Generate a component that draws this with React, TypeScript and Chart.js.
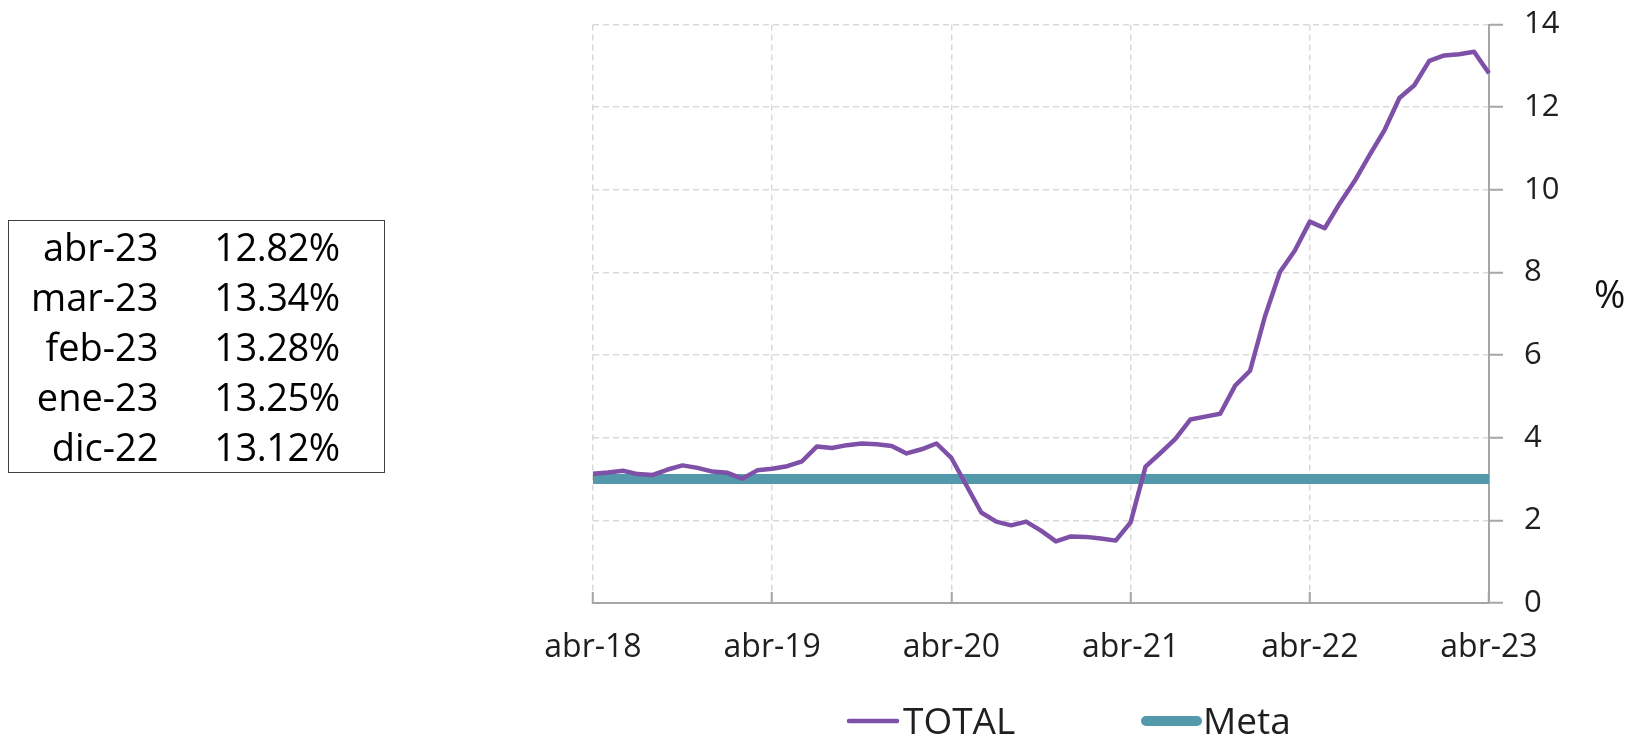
import React, { useEffect, useRef } from "react";
import { Chart, registerables } from "chart.js";

Chart.register(...registerables);

const monthLabels = [
  "abr-18", "may-18", "jun-18", "jul-18", "ago-18", "sep-18", "oct-18", "nov-18", "dic-18",
  "ene-19", "feb-19", "mar-19", "abr-19", "may-19", "jun-19", "jul-19", "ago-19", "sep-19", "oct-19", "nov-19", "dic-19",
  "ene-20", "feb-20", "mar-20", "abr-20", "may-20", "jun-20", "jul-20", "ago-20", "sep-20", "oct-20", "nov-20", "dic-20",
  "ene-21", "feb-21", "mar-21", "abr-21", "may-21", "jun-21", "jul-21", "ago-21", "sep-21", "oct-21", "nov-21", "dic-21",
  "ene-22", "feb-22", "mar-22", "abr-22", "may-22", "jun-22", "jul-22", "ago-22", "sep-22", "oct-22", "nov-22", "dic-22",
  "ene-23", "feb-23", "mar-23", "abr-23",
];

const xTickLabels = ["abr-18", "abr-19", "abr-20", "abr-21", "abr-22", "abr-23"];

const totalValues = [
  3.13, 3.16, 3.2, 3.12, 3.1, 3.23, 3.33, 3.27, 3.18,
  3.15, 3.01, 3.21, 3.25, 3.31, 3.43, 3.79, 3.75, 3.82, 3.86, 3.84, 3.8,
  3.62, 3.72, 3.86, 3.51, 2.85, 2.19, 1.97, 1.88, 1.97, 1.75, 1.49, 1.61,
  1.6, 1.56, 1.51, 1.95, 3.3, 3.63, 3.97, 4.44, 4.51, 4.58, 5.26, 5.62,
  6.94, 8.01, 8.53, 9.23, 9.07, 9.67, 10.21, 10.84, 11.44, 12.22, 12.53, 13.12,
  13.25, 13.28, 13.34, 12.82,
];

const metaValues = [
  3, 3, 3, 3, 3, 3, 3, 3, 3,
  3, 3, 3, 3, 3, 3, 3, 3, 3, 3, 3, 3,
  3, 3, 3, 3, 3, 3, 3, 3, 3, 3, 3, 3,
  3, 3, 3, 3, 3, 3, 3, 3, 3, 3, 3, 3,
  3, 3, 3, 3, 3, 3, 3, 3, 3, 3, 3, 3,
  3, 3, 3, 3,
];

const seriesNames = ["TOTAL", "Meta"];

const tableLabels = ["abr-23", "mar-23", "feb-23", "ene-23", "dic-22"];
const tableValues = ["12.82%", "13.34%", "13.28%", "13.25%", "13.12%"];

const FONT = "'Open Sans', 'Noto Sans', sans-serif";
const PURPLE = "#7E50A8";
const TEAL = "#5398AB";
const TEXT = "#1f1f1f";

const legendPlugin = {
  id: "customLegend",
  afterDraw(chart: any) {
    const ctx = chart.ctx;
    const spots = [
      { x1: 849, x2: 897, tx: 903 },
      { x1: 1146, x2: 1197, tx: 1203 },
    ];
    const y = 721;
    ctx.save();
    chart.data.datasets.forEach((ds: any, i: number) => {
      const s = spots[i];
      if (!s) return;
      ctx.beginPath();
      ctx.strokeStyle = ds.borderColor;
      ctx.lineWidth = ds.borderWidth;
      ctx.lineCap = "round";
      ctx.moveTo(s.x1, y);
      ctx.lineTo(s.x2, y);
      ctx.stroke();
      ctx.fillStyle = TEXT;
      ctx.font = `37px ${FONT}`;
      ctx.textBaseline = "alphabetic";
      ctx.textAlign = "left";
      ctx.fillText(ds.label, s.tx, 734);
    });
    ctx.restore();
  },
};

function ChartCanvas() {
  const ref = useRef<HTMLCanvasElement | null>(null);
  useEffect(() => {
    if (!ref.current) return;
    const chart = new Chart(ref.current, {
      type: "line",
      data: {
        labels: monthLabels,
        datasets: [
          {
            label: seriesNames[0],
            data: totalValues,
            borderColor: PURPLE,
            backgroundColor: PURPLE,
            borderWidth: 4.5,
            pointRadius: 0,
            tension: 0,
            borderJoinStyle: "round",
            borderCapStyle: "butt",
          },
          {
            label: seriesNames[1],
            data: metaValues,
            borderColor: TEAL,
            backgroundColor: TEAL,
            borderWidth: 10,
            pointRadius: 0,
            tension: 0,
            clip: 0,
          },
        ],
      },
      options: {
        animation: false,
        responsive: false,
        maintainAspectRatio: false,
        layout: { padding: { left: 593, top: 24.5, right: 0, bottom: 0 } },
        plugins: {
          legend: { display: false },
          tooltip: { enabled: false },
        },
        scales: {
          x: {
            type: "category",
            afterFit: (s: any) => {
              s.height = 738 - 603;
              s.paddingLeft = 0;
              s.paddingRight = 0;
            },
            grid: {
              color: "#d9d9d9",
              lineWidth: 1.5,
              drawTicks: true,
              tickLength: -11,
              tickColor: "#a6a6a6",
              tickWidth: 2,
              tickBorderDash: [],
            },
            border: { display: true, color: "#a6a6a6", width: 2, dash: [6, 4] },
            ticks: {
              autoSkip: false,
              maxRotation: 0,
              minRotation: 0,
              padding: 37,
              color: TEXT,
              font: { family: FONT, size: 32 },
              callback: (value: any) => {
                const lab = monthLabels[value as number];
                return xTickLabels.includes(lab) ? lab : null;
              },
            },
          },
          y: {
            position: "right",
            min: 0,
            max: 14,
            afterFit: (s: any) => {
              s.width = 1632 - 1489;
              s.paddingTop = 0;
              s.paddingBottom = 0;
            },
            grid: {
              color: "#d9d9d9",
              lineWidth: 1.5,
              tickLength: 14,
              tickColor: "#a6a6a6",
              tickWidth: 2,
              tickBorderDash: [],
            },
            border: { display: true, color: "#a6a6a6", width: 2, dash: [6, 4] },
            ticks: {
              stepSize: 2,
              padding: 21,
              color: TEXT,
              font: { family: FONT, size: 31 },
            },
          },
        },
      },
      plugins: [legendPlugin],
    });
    return () => chart.destroy();
  }, []);
  return (
    <canvas
      ref={ref}
      width={1632}
      height={738}
      style={{ position: "fixed", left: 0, top: 0, width: 1632, height: 738 }}
    />
  );
}

export default function App() {
  return (
    <div style={{ position: "fixed", left: 0, top: 0, width: 1632, height: 738, background: "#fff", overflow: "hidden" }}>
      <ChartCanvas />
      <span
        style={{
          position: "absolute",
          left: 1594,
          top: 274,
          fontFamily: FONT,
          fontSize: 38,
          lineHeight: "38px",
          color: "#111",
        }}
      >
        %
      </span>
      <div
        style={{
          position: "absolute",
          left: 8,
          top: 220,
          width: 377,
          height: 253,
          boxSizing: "border-box",
          border: "1.5px solid #404040",
          fontFamily: FONT,
          fontSize: 38,
          color: "#000",
        }}
      >
        {tableLabels.map((lab, i) => (
          <React.Fragment key={lab}>
            <div
              style={{
                position: "absolute",
                left: 0,
                top: i * 50,
                width: 149.5,
                height: 50,
                lineHeight: "50px",
                textAlign: "right",
                whiteSpace: "nowrap",
              }}
            >
              {lab}
            </div>
            <div
              style={{
                position: "absolute",
                left: 190,
                top: i * 50,
                width: 156,
                height: 50,
                lineHeight: "50px",
                textAlign: "center",
                whiteSpace: "nowrap",
                letterSpacing: -0.5,
              }}
            >
              {tableValues[i]}
            </div>
          </React.Fragment>
        ))}
      </div>
    </div>
  );
}
